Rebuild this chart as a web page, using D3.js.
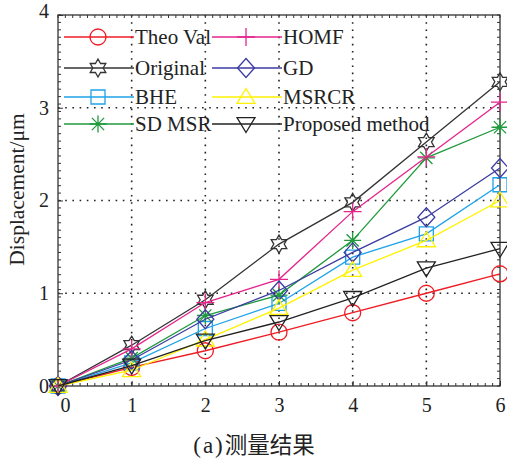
<!DOCTYPE html>
<html>
<head>
<meta charset="utf-8">
<script src="https://cdn.jsdelivr.net/npm/d3@7"></script>
<style>
  html, body { margin: 0; padding: 0; background: #fff; }
  svg { display: block; }
  text { font-family: "Liberation Serif", "Times New Roman", "DejaVu Serif", serif; fill: #222; }
</style>
</head>
<body>
<svg id="chart" width="507" height="459"></svg>
<script>
// Displacement measured at each step for every method
const steps = [0, 1, 2, 3, 4, 5, 6];
const theoVal  = [0, 0.20, 0.38, 0.58, 0.79, 1.00, 1.21];
const original = [0, 0.44, 0.93, 1.53, 1.98, 2.63, 3.28];
const bhe      = [0, 0.25, 0.62, 0.89, 1.39, 1.64, 2.17];
const sdMsr    = [0, 0.30, 0.76, 0.98, 1.57, 2.46, 2.79];
const homf     = [0, 0.40, 0.90, 1.15, 1.88, 2.47, 3.06];
const gd       = [0, 0.28, 0.72, 1.03, 1.44, 1.82, 2.35];
const msrcr    = [0, 0.17, 0.50, 0.84, 1.25, 1.57, 2.00];
const proposed = [0, 0.22, 0.49, 0.69, 0.95, 1.27, 1.48];

const seriesNames = ["Theo Val", "Original", "BHE", "SD MSR", "HOMF", "GD", "MSRCR", "Proposed method"];
const xTicks = [0, 1, 2, 3, 4, 5, 6];
const yTicks = [0, 1, 2, 3, 4];
const yLabel = "Displacement/\u03bcm";
const captionTag = "(a)";
const captionText = "\u6d4b\u91cf\u7ed3\u679c";

const series = [
  { name: seriesNames[0], values: theoVal,  color: "#ee1c24", marker: "circle" },
  { name: seriesNames[1], values: original, color: "#333333", marker: "hexagram" },
  { name: seriesNames[2], values: bhe,      color: "#1ea2e8", marker: "square" },
  { name: seriesNames[3], values: sdMsr,    color: "#1f9a3c", marker: "asterisk" },
  { name: seriesNames[4], values: homf,     color: "#e5258c", marker: "plus" },
  { name: seriesNames[5], values: gd,       color: "#3b3ba3", marker: "diamond" },
  { name: seriesNames[6], values: msrcr,    color: "#fff200", marker: "triUp" },
  { name: seriesNames[7], values: proposed, color: "#222222", marker: "triDown" }
];

const svg = d3.select("#chart");
const plotLeft = 58, plotRight = 500, plotTop = 15, plotBottom = 386;

const x = d3.scaleLinear().domain([0, 6]).range([plotLeft, plotRight]);
const y = d3.scaleLinear().domain([0, 4]).range([plotBottom, plotTop]);

// Marker outlines, centred at the origin
function markerPath(type) {
  const p = d3.path();
  if (type === "circle") {
    const r = 8;
    p.moveTo(r, 0); p.arc(0, 0, r, 0, Math.PI * 2);
  } else if (type === "square") {
    const s = 7;
    p.rect(-s, -s, 2 * s, 2 * s);
  } else if (type === "diamond") {
    const w = 8.5, h = 9.5;
    p.moveTo(0, -h); p.lineTo(w, 0); p.lineTo(0, h); p.lineTo(-w, 0); p.closePath();
  } else if (type === "triUp") {
    const w = 9, h = 8.5;
    p.moveTo(0, -h); p.lineTo(w, h * 0.75); p.lineTo(-w, h * 0.75); p.closePath();
  } else if (type === "triDown") {
    const w = 9, h = 8.5;
    p.moveTo(0, h); p.lineTo(w, -h * 0.75); p.lineTo(-w, -h * 0.75); p.closePath();
  } else if (type === "plus") {
    const s = 9;
    p.moveTo(-s, 0); p.lineTo(s, 0); p.moveTo(0, -s); p.lineTo(0, s);
  } else if (type === "asterisk") {
    const s = 8.5, d = s * 0.72;
    p.moveTo(-s, 0); p.lineTo(s, 0); p.moveTo(0, -s); p.lineTo(0, s);
    p.moveTo(-d, -d); p.lineTo(d, d); p.moveTo(-d, d); p.lineTo(d, -d);
  } else if (type === "hexagram") {
    const ro = 9, ri = ro / Math.sqrt(3);
    for (let i = 0; i < 12; i++) {
      const a = -Math.PI / 2 + i * Math.PI / 6;
      const r = i % 2 === 0 ? ro : ri;
      const px = r * Math.cos(a), py = r * Math.sin(a);
      if (i === 0) p.moveTo(px, py); else p.lineTo(px, py);
    }
    p.closePath();
  }
  return p.toString();
}

// Dotted grid
const grid = svg.append("g");
grid.selectAll("line.gx").data(xTicks.slice(1, -1)).join("line")
  .attr("x1", d => x(d)).attr("x2", d => x(d))
  .attr("y1", plotTop).attr("y2", plotBottom)
  .attr("stroke", "#222").attr("stroke-width", 1.6)
  .attr("stroke-dasharray", "1.6,5.6");
grid.selectAll("line.gy").data(yTicks.slice(1, -1)).join("line")
  .attr("x1", plotLeft).attr("x2", plotRight)
  .attr("y1", d => y(d)).attr("y2", d => y(d))
  .attr("stroke", "#222").attr("stroke-width", 1.6)
  .attr("stroke-dasharray", "1.6,5.6");

// Minor ticks along the frame, pointing inward
const minorX = d3.range(0, 6.0001, 0.1);
const minorY = d3.range(0, 4.0001, 0.08);
const ticks = svg.append("g").attr("stroke", "#333").attr("stroke-width", 1);
ticks.selectAll("line.mb").data(minorX).join("line")
  .attr("x1", d => x(d)).attr("x2", d => x(d)).attr("y1", plotBottom).attr("y2", plotBottom - 3);
ticks.selectAll("line.mt").data(minorX).join("line")
  .attr("x1", d => x(d)).attr("x2", d => x(d)).attr("y1", plotTop).attr("y2", plotTop + 3);
ticks.selectAll("line.ml").data(minorY).join("line")
  .attr("x1", plotLeft).attr("x2", plotLeft + 3).attr("y1", d => y(d)).attr("y2", d => y(d));
ticks.selectAll("line.mr").data(minorY).join("line")
  .attr("x1", plotRight).attr("x2", plotRight - 3).attr("y1", d => y(d)).attr("y2", d => y(d));

// Axes with tick labels
const xAxis = svg.append("g").attr("transform", `translate(0,${plotBottom})`)
  .call(d3.axisBottom(x).tickValues(xTicks).tickFormat(d3.format("d")).tickSize(-5).tickPadding(12));
const yAxis = svg.append("g").attr("transform", `translate(${plotLeft},0)`)
  .call(d3.axisLeft(y).tickValues(yTicks).tickFormat(d3.format("d")).tickSize(-5).tickPadding(9));
[xAxis, yAxis].forEach(g => {
  g.attr("font-family", null);
  g.select(".domain").remove();
  g.selectAll(".tick line").attr("stroke", "#333");
  g.selectAll("text").attr("font-size", 20).attr("fill", "#222");
});
xAxis.selectAll(".tick text").filter(d => d === 0).attr("dx", 7);
yAxis.selectAll(".tick text").filter(d => d === 4).attr("dy", "0.1em");

// Frame
svg.append("rect").attr("x", plotLeft).attr("y", plotTop)
  .attr("width", plotRight - plotLeft).attr("height", plotBottom - plotTop)
  .attr("fill", "none").attr("stroke", "#333").attr("stroke-width", 1.3);

// Series lines and markers
const line = d3.line().x((d, i) => x(steps[i])).y(d => y(d));
const plot = svg.append("g");
series.forEach(s => {
  const g = plot.append("g");
  g.append("path").attr("d", line(s.values))
    .attr("fill", "none").attr("stroke", s.color).attr("stroke-width", 1.3);
  g.selectAll("path.mk").data(s.values).join("path")
    .attr("class", "mk")
    .attr("transform", (d, i) => `translate(${x(steps[i])},${y(d)})`)
    .attr("d", markerPath(s.marker))
    .attr("fill", "none").attr("stroke", s.color).attr("stroke-width", 1.3);
});

// Legend in two columns
const legend = svg.append("g");
const rowY = [37, 68, 97, 124];
const colX = [64, 212];
series.forEach((s, i) => {
  const col = Math.floor(i / 4), row = i % 4;
  const lx = colX[col], ly = rowY[row];
  const g = legend.append("g");
  g.append("line").attr("x1", lx).attr("x2", lx + 70).attr("y1", ly).attr("y2", ly)
    .attr("stroke", s.color).attr("stroke-width", 1.3);
  g.append("path").attr("transform", `translate(${lx + 34},${ly})`)
    .attr("d", markerPath(s.marker))
    .attr("fill", "none").attr("stroke", s.color).attr("stroke-width", 1.3);
  g.append("text").attr("x", lx + 71).attr("y", ly).attr("dy", "0.35em")
    .attr("font-size", 21).text(s.name);
});

// Axis title and caption
svg.append("text")
  .attr("transform", `translate(24,${(plotTop + plotBottom) / 2 - 11}) rotate(-90)`)
  .attr("text-anchor", "middle").attr("font-size", 21.5).text(yLabel);
const cap = svg.append("text")
  .attr("x", 254).attr("y", 453).attr("text-anchor", "middle");
cap.append("tspan").attr("font-size", 23).attr("letter-spacing", 2).text(captionTag);
cap.append("tspan")
  .attr("font-family", "'Noto Sans CJK SC', sans-serif")
  .attr("font-size", 22.5).text(captionText);
</script>
</body>
</html>
